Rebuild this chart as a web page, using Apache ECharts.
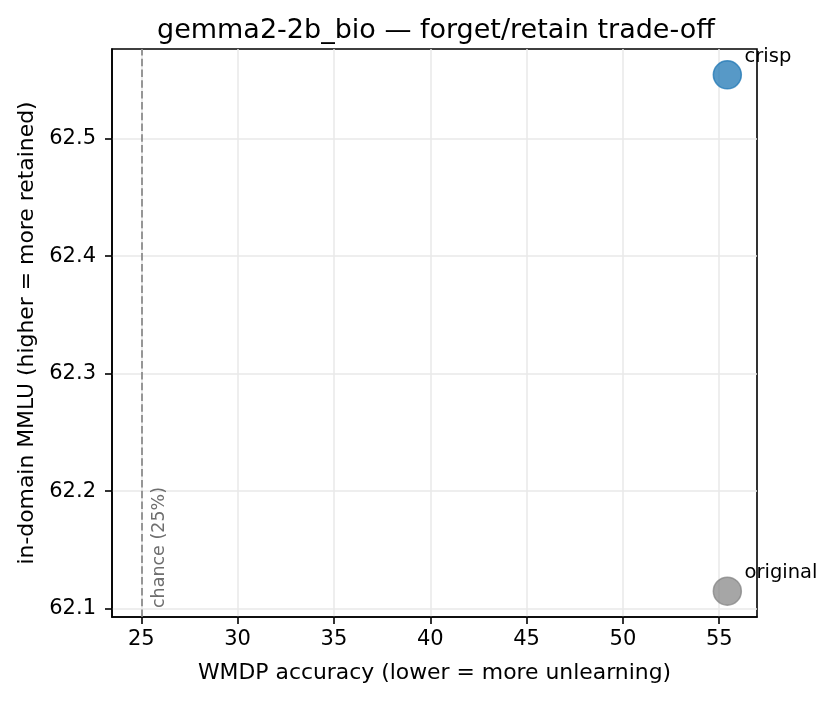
<!DOCTYPE html>
<html>
<head>
<meta charset="utf-8">
<script src="https://cdn.jsdelivr.net/npm/echarts@6/dist/echarts.min.js"></script>
<style>
  html, body { margin: 0; padding: 0; background: #fff; }
  #main { width: 837px; height: 702px; }
</style>
</head>
<body>
<div id="main"></div>
<script>
  var methods = ['crisp', 'original'];
  var wmdpAcc = [55.42, 55.42];
  var mmluAcc = [62.5544, 62.1148];
  var chance = 25;
  var xTicks = [25, 30, 35, 40, 45, 50, 55];
  var yTicks = [62.1, 62.2, 62.3, 62.4, 62.5];

  var colors = {
    crisp: 'rgba(31,119,180,0.75)',
    original: 'rgba(128,128,128,0.7)'
  };

  var font = 'DejaVu Sans';

  var myChart = echarts.init(document.getElementById('main'), null, { renderer: 'canvas' });

  var points = methods.map(function(m, i) {
    return {
      name: m,
      value: [wmdpAcc[i], mmluAcc[i]],
      itemStyle: { color: colors[m], borderColor: colors[m], borderWidth: 1.5, opacity: 1 }
    };
  });

  var option = {
    animation: false,
    backgroundColor: '#fff',
    textStyle: { fontFamily: font },
    title: {
      text: 'gemma2-2b_bio \u2014 forget/retain trade-off',
      left: 152,
      top: 12,
      textStyle: { fontFamily: font, fontSize: 27, fontWeight: 'normal', color: '#000' }
    },
    grid: { left: 112, right: 80, top: 49, bottom: 85, show: true, borderColor: '#000', borderWidth: 1.6, backgroundColor: 'transparent' },
    xAxis: {
      type: 'value',
      min: 23.48,
      max: 56.96,
      name: 'WMDP accuracy (lower = more unlearning)',
      nameLocation: 'middle',
      nameGap: 45,
      nameTextStyle: { fontFamily: font, fontSize: 21.9, color: '#000' },
      axisLine: { show: true, onZero: false, lineStyle: { color: '#000', width: 1.6 } },
      axisTick: { show: true, length: 7, lineStyle: { color: '#000', width: 1.6 }, customValues: xTicks },
      axisLabel: { fontFamily: font, fontSize: 21, color: '#000', margin: 12, customValues: xTicks },
      splitLine: { show: true, lineStyle: { color: '#e8e8e8', width: 1.5 } }
    },
    yAxis: {
      type: 'value',
      min: 62.0928,
      max: 62.5764,
      name: 'in-domain MMLU (higher = more retained)',
      nameLocation: 'middle',
      nameGap: 74,
      nameTextStyle: { fontFamily: font, fontSize: 21.9, color: '#000' },
      axisLine: { show: true, onZero: false, lineStyle: { color: '#000', width: 1.6 } },
      axisTick: { show: true, length: 7, lineStyle: { color: '#000', width: 1.6 }, customValues: yTicks },
      axisLabel: {
        fontFamily: font, fontSize: 21, color: '#000', margin: 16, customValues: yTicks,
        formatter: function(v) { return v.toFixed(1); }
      },
      splitLine: { show: true, lineStyle: { color: '#e8e8e8', width: 1.5 } }
    },
    series: [
      {
        type: 'scatter',
        symbolSize: 28,
        data: points,
        label: {
          show: true,
          formatter: '{b}',
          position: [32, -3],
          align: 'left',
          verticalAlign: 'middle',
          fontFamily: font,
          fontSize: 19.5,
          color: '#000'
        },
        markLine: {
          silent: true,
          symbol: 'none',
          label: { show: false },
          lineStyle: { color: 'rgba(128,128,128,0.8)', type: [7.5, 3.3], width: 2 },
          data: [{ xAxis: chance }]
        },
        z: 3
      },
      {
        type: 'scatter',
        symbolSize: 1,
        itemStyle: { color: 'rgba(0,0,0,0)', opacity: 1 },
        data: [{ name: 'chance (' + chance + '%)', value: [chance + 0.5, yTicks[0]] }],
        label: {
          show: true,
          formatter: '{b}',
          position: [0, 0],
          rotate: 90,
          align: 'left',
          verticalAlign: 'top',
          fontFamily: font,
          fontSize: 17.5,
          color: '#6e6e6e'
        },
        z: 2
      }
    ]
  };

  myChart.setOption(option);
</script>
</body>
</html>
